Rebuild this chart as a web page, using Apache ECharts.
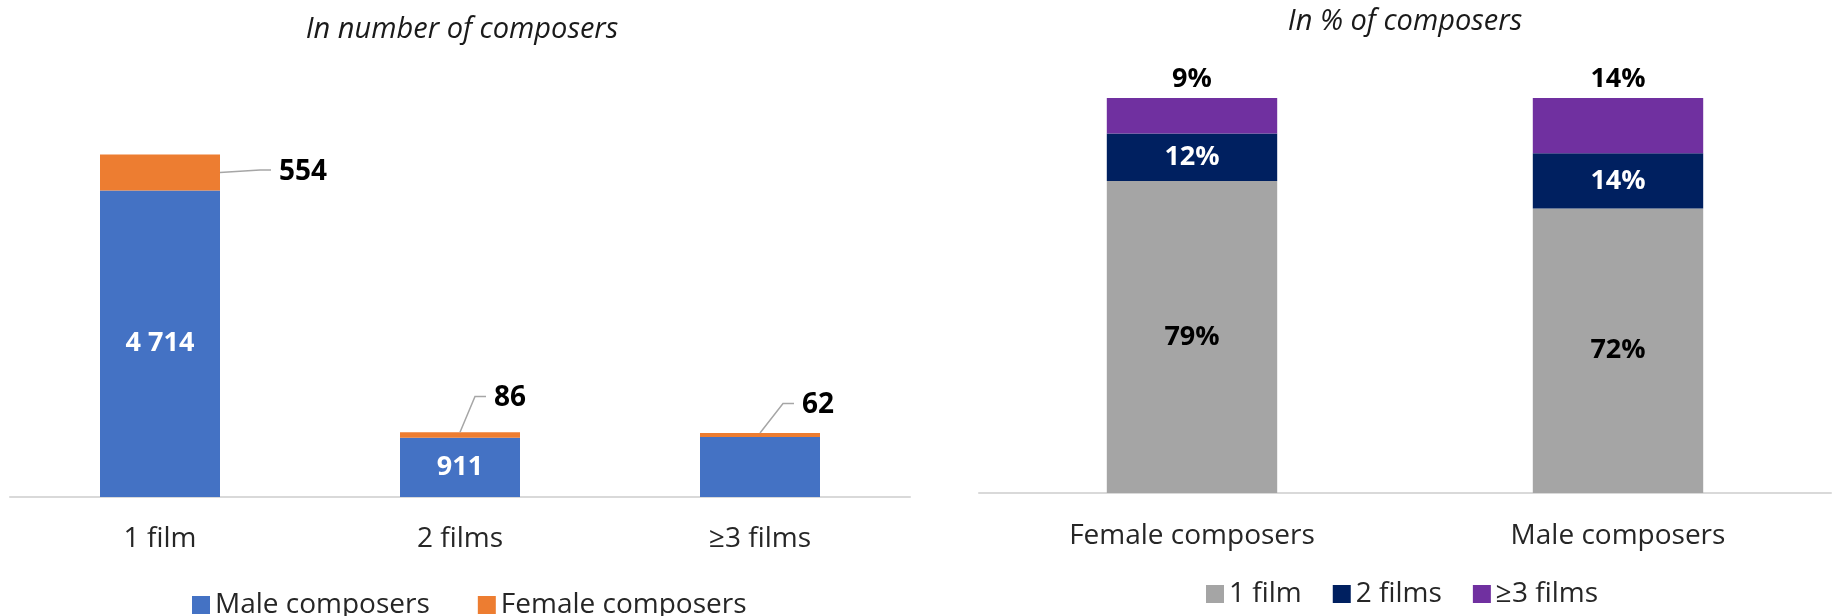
<!DOCTYPE html>
<html>
<head>
<meta charset="utf-8">
<script src="https://cdn.jsdelivr.net/npm/echarts@6/dist/echarts.min.js"></script>
<style>
  html, body { margin: 0; padding: 0; background: #fff; }
  #chart { width: 1837px; height: 616px; }
</style>
</head>
<body>
<div id="chart"></div>
<script>
// left panel: number of composers
var filmCats = ['1 film', '2 films', '≥3 films']
var maleCounts = [4714, 911, 922]
var femaleCounts = [554, 86, 62]

// right panel: % of composers
var genderCats = ['Female composers', 'Male composers']
var pctOneFilm = [79, 72]
var pctTwoFilms = [12, 14]
var pctThreeFilms = [9, 14]

var FONT = 'Open Sans'
var BAR_RATIO = 0.4
var LABEL_DIST = 5

function spaced (v) {
  return String(v).replace(/(?=(?!^)(\d{3})+$)/g, ' ')
}

// offsets for the female labels (moved out of the thin orange caps)
var femaleLabelShift = [
  { dx: 54, dy: -1 },
  { dx: -31, dy: -37 },
  { dx: -23, dy: -30 }
]

var myChart = echarts.init(document.getElementById('chart'))
myChart.setOption({
  animation: false,
  textStyle: { fontFamily: FONT },
  title: [
    {
      text: 'In number of composers',
      left: 457,
      top: 10,
      textAlign: 'center',
      textStyle: { fontFamily: FONT, fontStyle: 'italic', fontWeight: 'normal', fontSize: 29, color: '#1a1a1a' }
    },
    {
      text: 'In % of composers',
      left: 1400,
      top: 2,
      textAlign: 'center',
      textStyle: { fontFamily: FONT, fontStyle: 'italic', fontWeight: 'normal', fontSize: 29, color: '#1a1a1a' }
    }
  ],
  legend: [
    {
      data: ['Male composers', 'Female composers'],
      left: 187,
      top: 586,
      icon: 'rect',
      itemWidth: 18,
      itemHeight: 18,
      itemGap: 48,
      textStyle: { fontFamily: FONT, fontSize: 28, color: '#262626' }
    },
    {
      data: ['1 film', '2 films', '≥3 films'],
      left: 1201,
      top: 575,
      icon: 'rect',
      itemWidth: 18,
      itemHeight: 18,
      itemGap: 31,
      textStyle: { fontFamily: FONT, fontSize: 28, color: '#262626' }
    }
  ],
  grid: [
    { left: 10, width: 900, top: 107, bottom: 119 },
    { left: 979, width: 852, top: 98, bottom: 123 }
  ],
  xAxis: [
    {
      type: 'category',
      gridIndex: 0,
      data: filmCats,
      axisTick: { show: false },
      axisLine: { lineStyle: { color: '#D9D9D9', width: 2 } },
      axisLabel: { margin: 28, fontFamily: FONT, fontSize: 28, color: '#262626' }
    },
    {
      type: 'category',
      gridIndex: 1,
      data: genderCats,
      axisTick: { show: false },
      axisLine: { lineStyle: { color: '#D9D9D9', width: 2 } },
      axisLabel: { margin: 29, fontFamily: FONT, fontSize: 28, color: '#262626' }
    }
  ],
  yAxis: [
    { type: 'value', gridIndex: 0, min: 0, max: 6000, show: false, splitLine: { show: false } },
    { type: 'value', gridIndex: 1, min: 0, max: 100, show: false, splitLine: { show: false } }
  ],
  series: [
    {
      name: 'Male composers',
      type: 'bar',
      stack: 'count',
      xAxisIndex: 0,
      yAxisIndex: 0,
      barWidth: BAR_RATIO * 100 + '%',
      itemStyle: { color: '#4472C4' },
      label: {
        show: true,
        position: 'inside',
        color: '#fff',
        fontWeight: 'bold',
        fontSize: 27,
        fontFamily: FONT,
        formatter: function (p) { return spaced(p.value) }
      },
      data: maleCounts.map(function (v, i) {
        return i === 2 ? { value: v, label: { show: false } } : v
      })
    },
    {
      name: 'Female composers',
      type: 'bar',
      stack: 'count',
      xAxisIndex: 0,
      yAxisIndex: 0,
      barWidth: BAR_RATIO * 100 + '%',
      itemStyle: { color: '#ED7D31' },
      label: {
        show: true,
        position: 'right',
        distance: LABEL_DIST,
        color: '#000',
        fontWeight: 'bold',
        fontSize: 28,
        fontFamily: FONT,
        formatter: function (p) { return spaced(p.value) }
      },
      labelLayout: function (params) {
        return femaleLabelShift[params.dataIndex]
      },
      data: femaleCounts
    },
    {
      // leader lines from the orange caps to their moved labels
      type: 'custom',
      xAxisIndex: 0,
      yAxisIndex: 0,
      silent: true,
      z: 5,
      data: femaleCounts.map(function (v, i) { return [i, maleCounts[i], v] }),
      renderItem: function (params, api) {
        var i = api.value(0)
        var m = api.value(1)
        var f = api.value(2)
        var s = femaleLabelShift[i]
        var bw = api.size([1, 0])[0]
        var topPt = api.coord([i, m + f])
        var midPt = api.coord([i, m + f / 2])
        var right = topPt[0] + bw * BAR_RATIO / 2
        var labelLeft = right + LABEL_DIST + s.dx
        var labelMid = midPt[1] + s.dy - 1.5
        var start = i === 0 ? [right, midPt[1]] : [topPt[0], topPt[1]]
        return {
          type: 'polyline',
          shape: { points: [start, [labelLeft - 19, labelMid], [labelLeft - 8, labelMid]] },
          style: { stroke: '#A6A6A6', lineWidth: 1.5, fill: null }
        }
      }
    },
    {
      name: '1 film',
      type: 'bar',
      stack: 'pct',
      xAxisIndex: 1,
      yAxisIndex: 1,
      barWidth: BAR_RATIO * 100 + '%',
      itemStyle: { color: '#A5A5A5' },
      label: {
        show: true,
        position: 'inside',
        color: '#000',
        fontWeight: 'bold',
        fontSize: 27,
        fontFamily: FONT,
        formatter: '{c}%'
      },
      data: pctOneFilm
    },
    {
      name: '2 films',
      type: 'bar',
      stack: 'pct',
      xAxisIndex: 1,
      yAxisIndex: 1,
      barWidth: BAR_RATIO * 100 + '%',
      itemStyle: { color: '#002060' },
      label: {
        show: true,
        position: 'inside',
        color: '#fff',
        fontWeight: 'bold',
        fontSize: 27,
        fontFamily: FONT,
        formatter: '{c}%'
      },
      data: pctTwoFilms
    },
    {
      name: '≥3 films',
      type: 'bar',
      stack: 'pct',
      xAxisIndex: 1,
      yAxisIndex: 1,
      barWidth: BAR_RATIO * 100 + '%',
      itemStyle: { color: '#7030A0' },
      label: {
        show: true,
        position: 'top',
        color: '#000',
        fontWeight: 'bold',
        fontSize: 27,
        fontFamily: FONT,
        formatter: '{c}%'
      },
      data: pctThreeFilms
    }
  ]
})
</script>
</body>
</html>
